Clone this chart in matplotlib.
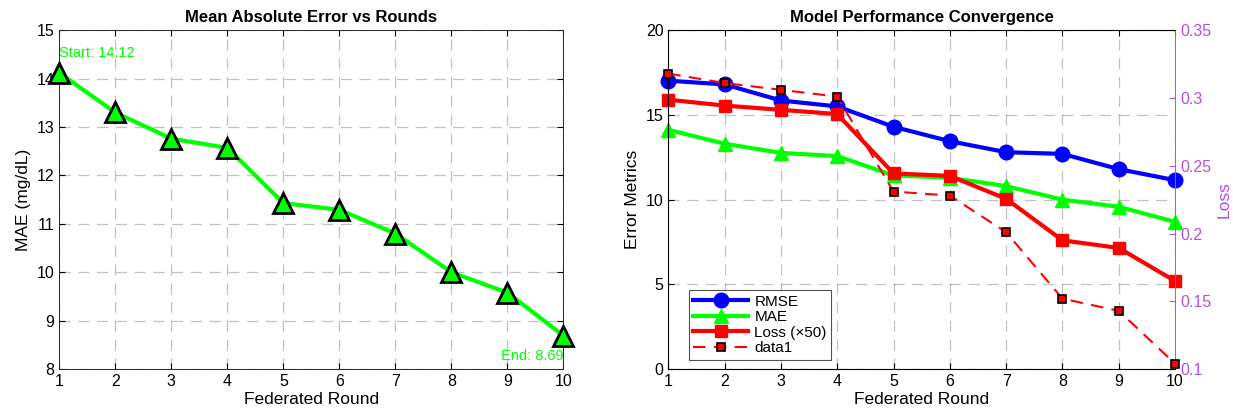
import matplotlib.pyplot as plt

plt.rcParams['font.family'] = ['Liberation Sans', 'DejaVu Sans']

rounds = [1, 2, 3, 4, 5, 6, 7, 8, 9, 10]
mae = [14.12, 13.30, 12.76, 12.57, 11.43, 11.29, 10.80, 10.00, 9.58, 8.69]
rmse = [17.02, 16.80, 15.85, 15.50, 14.30, 13.45, 12.80, 12.70, 11.80, 11.15]
loss = [0.318, 0.311, 0.306, 0.301, 0.231, 0.228, 0.201, 0.152, 0.143, 0.104]
loss_x50 = [v * 50 for v in loss]

GREEN = (0, 1, 0)
GRID = dict(color=(0.15, 0.15, 0.15), alpha=0.28, linestyle=(0, (9, 6)), linewidth=0.9)
PURPLE = (0.72, 0.30, 0.90)

fig = plt.figure(figsize=(12.33, 4.19), dpi=100)

# --- gauche : MAE
ax1 = fig.add_axes([0.048, 0.119, 0.409, 0.809])
ax1.plot(rounds, mae, color=GREEN, linewidth=3, marker='^', markersize=14,
         markerfacecolor=GREEN, markeredgecolor='k', markeredgewidth=2, clip_on=False, zorder=3)
ax1.text(1, 14.38, f'Start: {mae[0]:.2f}', color=GREEN, fontsize=10.5, ha='left', va='bottom')
ax1.text(10, 8.12, f'End: {mae[-1]:.2f}', color=GREEN, fontsize=10.5, ha='right', va='bottom')
ax1.set_xlim(1, 10)
ax1.set_ylim(8, 15)
ax1.set_xticks(rounds)
ax1.set_yticks(range(8, 16))
ax1.grid(True, **GRID)
ax1.set_xlabel('Federated Round', fontsize=12.5, labelpad=2)
ax1.set_ylabel('MAE (mg/dL)', fontsize=12.5)
ax1.set_title('Mean Absolute Error vs Rounds', fontsize=12, fontweight='bold', pad=6)
ax1.tick_params(labelsize=11.5, direction='in', length=4, top=True, right=True, labeltop=False, labelright=False)
for s in ax1.spines.values():
    s.set_color((0.15, 0.15, 0.15))
    s.set_linewidth(0.7)

# --- droite : convergence
ax2 = fig.add_axes([0.542, 0.119, 0.411, 0.809])
ax2.plot(rounds, rmse, color='b', linewidth=3, marker='o', markersize=10.5,
         markerfacecolor='b', label='RMSE', clip_on=False, zorder=3)
ax2.plot(rounds, mae, color=GREEN, linewidth=3, marker='^', markersize=10.5,
         markerfacecolor=GREEN, label='MAE', clip_on=False, zorder=3)
ax2.plot(rounds, loss_x50, color='r', linewidth=3, marker='s', markersize=8.5,
         markerfacecolor='r', label='Loss (×50)', clip_on=False, zorder=3)
ax2.set_xlim(1, 10)
ax2.set_ylim(0, 20)
ax2.set_xticks(rounds)
ax2.set_yticks([0, 5, 10, 15, 20])
ax2.grid(True, **GRID)
ax2.set_xlabel('Federated Round', fontsize=12.5, labelpad=2)
ax2.set_ylabel('Error Metrics', fontsize=12.5)
ax2.set_title('Model Performance Convergence', fontsize=12, fontweight='bold', pad=6)
ax2.tick_params(labelsize=11.5, direction='in', length=4, top=True, labeltop=False)

ax3 = ax2.twinx()
ax3.plot(rounds, loss, color='r', linewidth=1.5, linestyle=(0, (6, 4)), marker='s', markersize=6,
         markerfacecolor='r', markeredgecolor='k', markeredgewidth=1.2, label='data1',
         clip_on=False, zorder=3)
ax3.set_ylim(0.1, 0.35)
ax3.set_yticks([0.1, 0.15, 0.2, 0.25, 0.3, 0.35])
ax3.set_yticklabels(['0.1', '0.15', '0.2', '0.25', '0.3', '0.35'])
ax3.set_ylabel('Loss', fontsize=12.5, color=PURPLE)
ax3.tick_params(axis='y', labelsize=11.5, colors=PURPLE, direction='in', length=4)
ax3.spines['right'].set_color(PURPLE)
for name in ['left', 'top', 'bottom']:
    ax2.spines[name].set_color((0.15, 0.15, 0.15))
    ax2.spines[name].set_linewidth(0.7)
ax2.spines['right'].set_visible(False)
ax3.spines['right'].set_linewidth(0.7)

h2, l2 = ax2.get_legend_handles_labels()
h3, l3 = ax3.get_legend_handles_labels()
leg = ax3.legend(h2 + h3, l2 + l3, loc='lower left', bbox_to_anchor=(0.025, 0.005),
                 fontsize=11, fancybox=False, edgecolor=(0.15, 0.15, 0.15),
                 handlelength=3.6, borderpad=0.3, labelspacing=0.1, handletextpad=0.4)
leg.get_frame().set_linewidth(0.8)

fig.savefig('out.png', dpi=100)
